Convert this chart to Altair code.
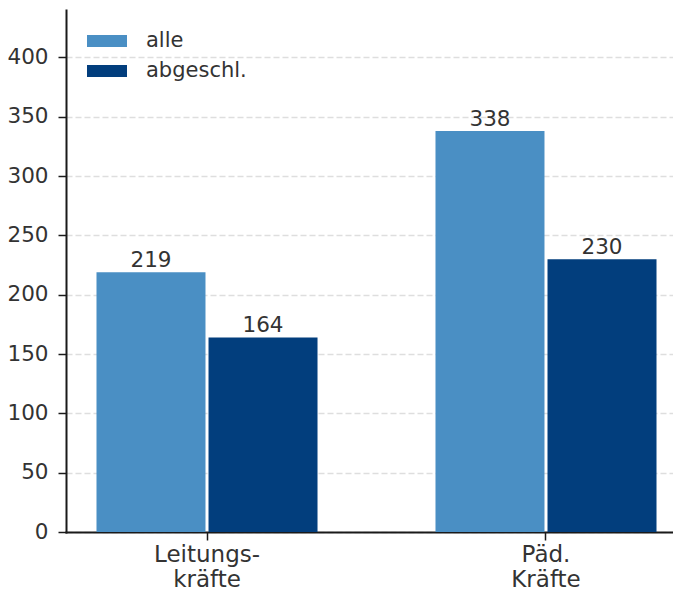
import altair as alt
import pandas as pd

categories = ["Leitungs-\nkräfte", "Päd.\nKräfte"]
series = ["alle", "abgeschl."]
alle = [219, 338]
abgeschl = [164, 230]
y_ticks = [0, 50, 100, 150, 200, 250, 300, 350, 400]
colors = ["#4a8fc4", "#023e7d"]

rows = []
for i, c in enumerate(categories):
    rows.append({"cat": c, "series": series[0], "value": alle[i]})
    rows.append({"cat": c, "series": series[1], "value": abgeschl[i]})
df = pd.DataFrame(rows)

TXT = "#333333"
AX = "#1a1a1a"
FONT = "DejaVu Sans"

x_enc = alt.X("cat:N", sort=categories, title=None,
              scale=alt.Scale(paddingInner=0.348, paddingOuter=0.0693, align=0.649),
              axis=alt.Axis(labelAngle=0, labelExpr="split(datum.label, '\\n')",
                            labelFontSize=23, labelLineHeight=25, labelColor=TXT,
                            labelFont=FONT, labelPadding=3,
                            tickSize=8, tickWidth=1.5, tickColor=AX,
                            domainColor=AX, domainWidth=2, grid=False))
xoff = alt.XOffset("series:N", sort=series, scale=alt.Scale(paddingInner=0.027, paddingOuter=0))
y_enc = alt.Y("value:Q", title=None,
              scale=alt.Scale(domain=[0, 440], nice=False),
              axis=alt.Axis(values=y_ticks, labelFontSize=21.5, labelColor=TXT, labelFont=FONT,
                            labelPadding=10, tickSize=8, tickWidth=1.5, tickColor=AX,
                            domainColor=AX, domainWidth=2,
                            grid=True, gridColor="#dedede", gridDash=[6, 3], gridWidth=1.5))
color_enc = alt.Color("series:N", sort=series,
                      scale=alt.Scale(domain=series, range=colors),
                      legend=alt.Legend(title=None, orient="none", legendX=21, legendY=11,
                                        symbolType="M-1,-0.3H1V0.3H-1Z", symbolSize=1600,
                                        symbolStrokeWidth=0, symbolOpacity=1,
                                        labelFontSize=21, labelColor=TXT, labelFont=FONT,
                                        labelOffset=19, rowPadding=-9, padding=0))

base = alt.Chart(df)
bars = base.mark_bar(stroke=None).encode(x=x_enc, xOffset=xoff, y=y_enc, color=color_enc)
labels = base.mark_text(baseline="bottom", dy=0, fontSize=21.5, color=TXT, font=FONT).encode(
    x=alt.X("cat:N", sort=categories), xOffset=xoff, y="value:Q", text=alt.Text("value:Q", format="d"))

chart = (bars + labels).properties(
    width=607, height=522,
    autosize=alt.AutoSizeParams(type="none"),
    padding={"left": 58, "top": 2, "right": 0, "bottom": 59},
).configure_view(stroke=None).configure_axis(domainCap="square")

chart.save("out.html", embed_options={"renderer": "svg", "actions": False})
